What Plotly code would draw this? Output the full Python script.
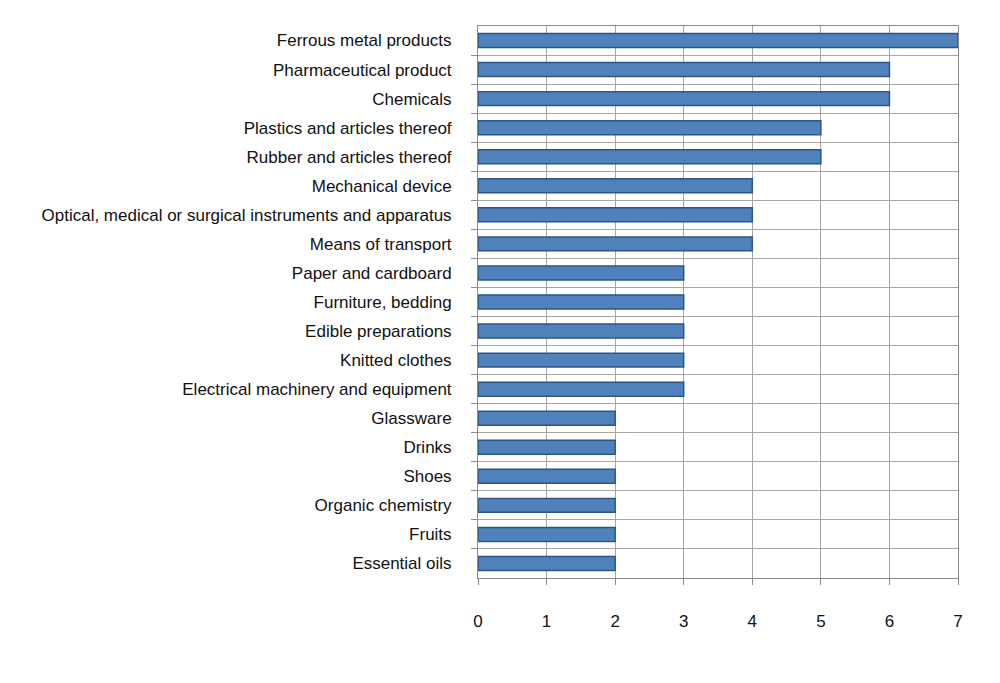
import plotly.graph_objects as go

categories = [
    "Ferrous metal products",
    "Pharmaceutical product",
    "Chemicals",
    "Plastics and articles thereof",
    "Rubber and articles thereof",
    "Mechanical device",
    "Optical, medical or surgical instruments and apparatus",
    "Means of transport",
    "Paper and cardboard",
    "Furniture, bedding",
    "Edible preparations",
    "Knitted clothes",
    "Electrical machinery and equipment",
    "Glassware",
    "Drinks",
    "Shoes",
    "Organic chemistry",
    "Fruits",
    "Essential oils",
]
values = [7, 6, 6, 5, 5, 4, 4, 4, 3, 3, 3, 3, 3, 2, 2, 2, 2, 2, 2]
x_ticks = [0, 1, 2, 3, 4, 5, 6, 7]

positions = list(range(len(categories)))

fig = go.Figure()
fig.add_trace(go.Bar(
    y=positions,
    x=values,
    orientation="h",
    width=0.48,
    marker=dict(color="#4F81BD", line=dict(color="#2F5587", width=1.5)),
    hoverinfo="x+text",
    text=categories,
    textposition="none",
))

fig.update_layout(
    width=1000,
    height=683,
    plot_bgcolor="white",
    paper_bgcolor="white",
    margin=dict(l=470, r=50, t=18, b=113),
    showlegend=False,
    font=dict(family="Liberation Sans, Arial, sans-serif", size=17, color="#111111"),
)
fig.update_xaxes(
    range=[0, 7],
    tickvals=x_ticks,
    ticktext=[str(t) for t in x_ticks],
    showgrid=True,
    gridcolor="#A6A6A6",
    gridwidth=1,
    showline=True,
    linecolor="#8C8C8C",
    ticks="outside",
    ticklen=6,
    tickcolor="#8C8C8C",
    zeroline=False,
    mirror=True,
    ticklabelstandoff=22,
    tickfont=dict(size=17),
)
fig.update_yaxes(
    range=[len(categories) - 0.5, -0.5],
    tickvals=positions,
    ticktext=categories,
    showgrid=False,
    zeroline=False,
    showline=True,
    linecolor="#8C8C8C",
    mirror=True,
    ticks="",
    ticklabelstandoff=22,
    minor=dict(
        tickvals=[p + 0.5 for p in positions[:-1]],
        showgrid=True,
        gridcolor="#A6A6A6",
        gridwidth=1,
        ticks="outside",
        ticklen=6,
        tickcolor="#8C8C8C",
    ),
    tickfont=dict(size=17),
)

fig.write_html("out.html")
